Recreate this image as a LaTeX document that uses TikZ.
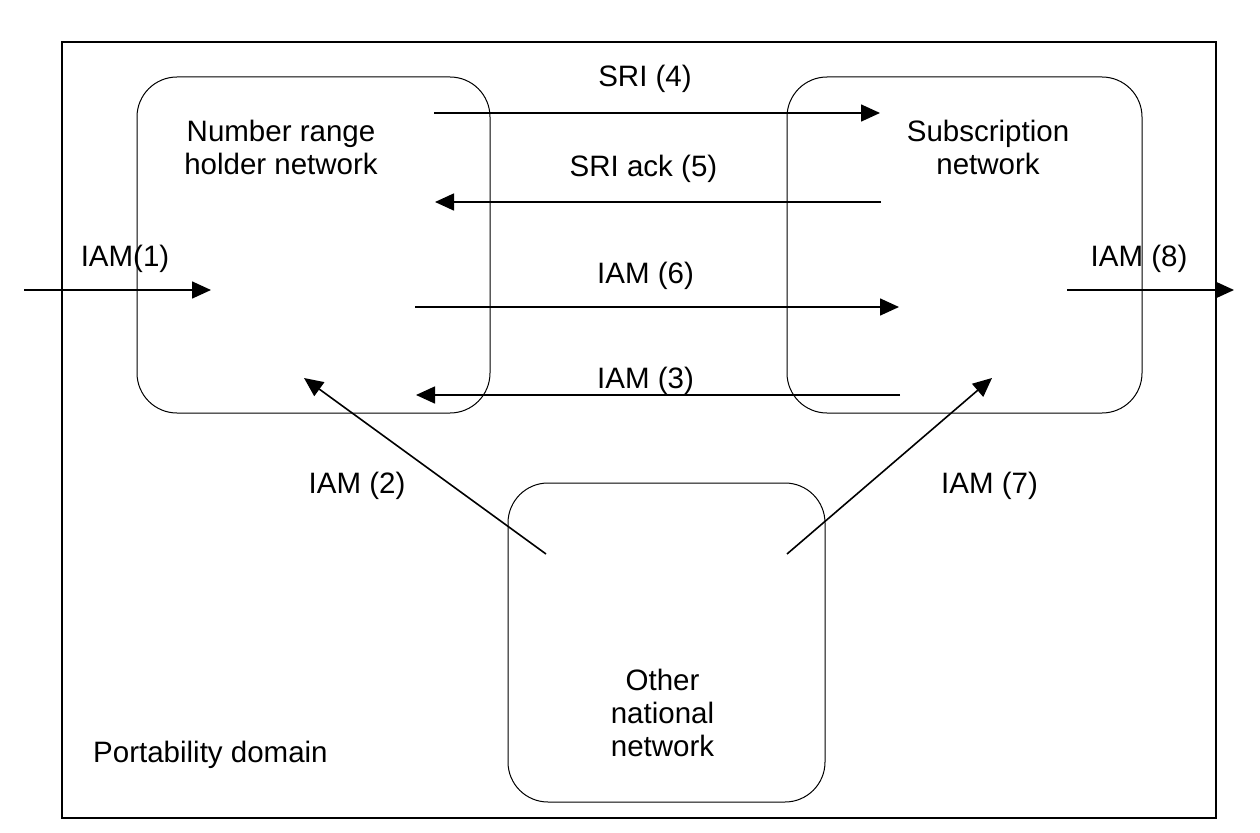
\documentclass[tikz,border=0pt]{standalone}
\usepackage{fontspec}
\setmainfont{Liberation Sans}
\usetikzlibrary{arrows.meta}
\begin{document}
\begin{tikzpicture}[x=1pt,y=-1pt,
  net/.style={draw, line width=1pt, rounded corners=40pt, inner sep=0pt},
  frame/.style={draw, line width=1.5pt, inner sep=0pt},
  lbl/.style={font=\fontsize{29.5}{33}\selectfont, inner sep=0pt, anchor=base},
  ntext/.style={font=\fontsize{29.5}{33}\selectfont, inner sep=0pt, align=center},
  msg/.style={line width=1.6pt, -{Triangle[length=19pt,width=17pt]}},
]
\useasboundingbox (0,0) rectangle (1260,832);

% portability domain frame
\node[frame, minimum width=1154pt, minimum height=776pt] (dom) at (639,430) {};
\node[lbl, anchor=base west] (domlbl) at (93,762) {Portability domain};

% networks
\node[net, minimum width=353pt, minimum height=336pt] (nrh) at (313.5,245) {};
\node[net, minimum width=355pt, minimum height=336pt] (sub) at (964.5,245) {};
\node[net, minimum width=317pt, minimum height=319pt] (oth) at (666.5,642.5) {};

\node[ntext] (nrhtxt) at (281,147.5) {Number range\\holder network};
\node[ntext] (subtxt) at (988,147.5) {Subscription\\network};
\node[ntext] (othtxt) at (662.5,713) {Other\\national\\network};

% connector end points
\coordinate (a4s) at (434,113);  \coordinate (a4e) at (880,113);
\coordinate (a5s) at (881,202);  \coordinate (a5e) at (435,202);
\coordinate (a6s) at (415,307);  \coordinate (a6e) at (899,307);
\coordinate (a3s) at (900,395);  \coordinate (a3e) at (416,395);
\coordinate (a1s) at (24,290);   \coordinate (a1e) at (211,290);
\coordinate (a8s) at (1067,290); \coordinate (a8e) at (1234,290);
\coordinate (a2s) at (546,554);  \coordinate (a2e) at (304,378);
\coordinate (a7s) at (787,554);  \coordinate (a7e) at (992,378);

\draw[msg] (a4s) -- (a4e);
\draw[msg] (a5s) -- (a5e);
\draw[msg] (a6s) -- (a6e);
\draw[msg] (a3s) -- (a3e);
\draw[msg] (a1s) -- (a1e);
\draw[msg] (a8s) -- (a8e);
\draw[msg] (a2s) -- (a2e);
\draw[msg] (a7s) -- (a7e);

% labels
\node[lbl] (l4) at (645,87) {SRI (4)};
\node[lbl] (l5) at (643.5,176) {SRI ack (5)};
\node[lbl] (l6) at (645.5,283) {IAM (6)};
\node[lbl] (l3) at (645.5,388) {IAM (3)};
\node[lbl] (l1) at (125,266) {IAM(1)};
\node[lbl] (l8) at (1139,266) {IAM (8)};
\node[lbl] (l2) at (357,493) {IAM (2)};
\node[lbl] (l7) at (989.5,493) {IAM (7)};
\end{tikzpicture}
\end{document}
